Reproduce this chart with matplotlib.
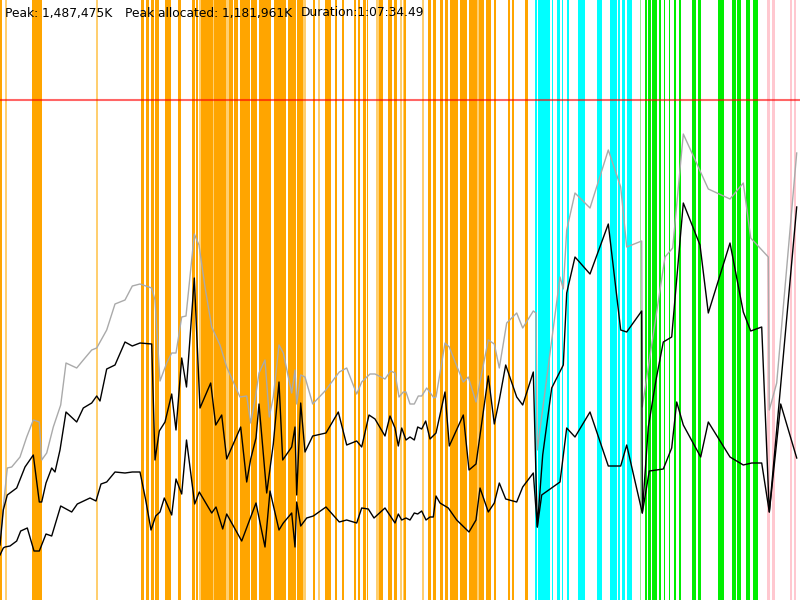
import matplotlib
matplotlib.use("Agg")
import matplotlib.pyplot as plt

# ---- data (time in px-ish units 0..800, memory in chart units 0..600) ----
gray_t = [0, 3.3, 7.3, 11.7, 20, 26.7, 33.3, 39.3, 41.7, 46.7, 53.3, 60.7, 66, 76.7, 83.3, 91.7, 96.7,
          106.7, 115, 125, 132.3, 140, 151.7, 155, 160, 166.7, 171.7, 176, 181.7, 186, 194.3, 199, 205,
          211.7, 220, 226.7, 240, 246.7, 250.7, 255, 259, 265, 269.3, 273.3, 279, 283.3, 291.7, 295,
          296.7, 300.7, 305, 312.7, 325, 339.3, 346.7, 356.7, 361.7, 370, 375, 385, 390.7, 395, 399,
          403.3, 406, 410, 414.3, 418.3, 421.7, 426.7, 434, 436, 445, 449.3, 456.7, 463.3, 468.3, 476,
          488.3, 494.3, 499.3, 506.7, 516.7, 522.7, 533.3, 536, 537.3, 560, 563.3, 566.7, 575, 590,
          608.3, 620.7, 626.7, 641.7, 642.3, 665, 672.7, 683.3, 708.3, 730, 743.3, 750.7, 768.3,
          769.3, 776.7, 796.7]
gray_v = [60, 93, 132, 133, 143, 163, 180, 178, 140, 147, 173, 195, 237, 232, 240, 250, 252,
          270, 296, 300, 314, 316, 312, 300, 219, 237, 247, 247, 283, 284, 366, 355, 313,
          273, 255, 233, 203, 204, 177, 200, 227, 240, 183, 203, 255, 247, 207, 230,
          196, 225, 223, 196, 209, 228, 232, 206, 218, 226, 226, 221, 229, 227, 203,
          208, 208, 196, 196, 204, 204, 212, 202, 203, 257, 253, 234, 218, 223, 198,
          260, 256, 232, 277, 287, 272, 289, 287, 150, 323, 311, 370, 407, 392,
          450, 413, 353, 359, 193, 343, 352, 466, 411, 401, 417, 362, 343,
          190, 217, 447]

alloc_t = [0, 3.3, 7.3, 16.7, 25, 33.3, 39.3, 41.7, 46, 51.7, 55, 60, 66, 76.7, 83.3, 91.7, 96.7, 100,
           106.7, 115, 125, 132.3, 140, 151.7, 155, 159.3, 165, 171.7, 176, 181.7, 186.5, 194.3, 200,
           210.7, 215.7, 221.7, 226.7, 240.7, 246.7, 250.7, 256, 259, 266.7, 273.3, 279, 282.7, 291.7,
           295, 296.7, 300.7, 305, 312.7, 326, 338.3, 346.7, 356.7, 361.7, 369, 375, 385, 390, 395,
           398.3, 401.7, 406, 410, 414.3, 417.7, 421.7, 425.7, 430, 436, 445, 449.3, 463.3, 469, 476,
           488.3, 494.3, 499.3, 505.7, 516.7, 522.7, 533.3, 537.3, 542.7, 551.7, 563.3, 566.7, 575,
           590, 608.3, 620.7, 626.7, 641.7, 642.3, 648.3, 656, 663.3, 671.7, 683.3, 700, 708.3, 730,
           743.3, 750.7, 761.7, 769.3, 796.7]
alloc_v = [55, 90, 105, 112, 133, 145, 98, 98, 117, 132, 128, 150, 188, 178, 192, 197, 204, 199,
           231, 235, 258, 254, 257, 256, 140, 169, 178, 206, 170, 242, 213, 322, 192,
           217, 175, 185, 141, 173, 118, 141, 162, 196, 107, 156, 218, 140, 153,
           173, 105, 197, 148, 164, 167, 188, 155, 159, 153, 185, 181, 164, 184, 172,
           154, 172, 160, 163, 160, 173, 171, 179, 161, 167, 208, 154, 185, 130, 136,
           224, 176, 200, 235, 203, 195, 228, 73, 145, 212, 235, 307, 343,
           326, 376, 270, 268, 289, 87, 173, 220, 258, 263, 397, 355, 287, 357,
           288, 269, 273, 88, 393]

live_t = [0, 3.3, 5, 10, 16.7, 20.7, 27.3, 34, 39.3, 46, 51.7, 60.7, 71.7, 77.3, 90, 96, 101, 106.7,
          115, 125, 132.3, 140, 145.7, 151, 155.7, 160, 164.3, 171.7, 176, 181.7, 186.5, 194.7, 199.3,
          211.7, 216, 222.7, 226.7, 241.7, 256, 265, 270, 279, 283.3, 291.7, 295, 296.7, 300.7, 306.7,
          313.3, 326, 339.3, 346.7, 356.7, 361.7, 368.3, 374, 385, 395, 398.3, 401.7, 406, 410, 414.3,
          417.7, 421.7, 426, 430, 433.3, 436, 440, 448.3, 456.7, 469, 476, 480, 488.3, 494.3, 499.3,
          505.7, 516.7, 522.7, 533.3, 537.3, 541.7, 560, 566.7, 575, 590, 608.3, 620.7, 626.7, 642.3,
          649.3, 663.3, 671.7, 676.7, 683.3, 700.7, 708.3, 730, 743.3, 751.7, 761.7, 769.3, 780.7, 796.7]
live_v = [45, 52, 53, 54, 59, 69, 72, 49, 49, 66, 64, 94, 88, 96, 102, 99, 116, 118,
          128, 127, 128, 128, 100, 70, 84, 88, 102, 85, 121, 106, 160, 96, 108,
          87, 93, 71, 86, 59, 97, 53, 109, 70, 77, 87, 53, 98, 74, 82,
          84, 93, 78, 80, 77, 92, 91, 82, 92, 77, 86, 80, 82, 80, 87,
          86, 89, 80, 83, 83, 104, 97, 92, 80, 68, 80, 112, 88, 97, 117,
          101, 98, 113, 127, 73, 105, 118, 172, 163, 188, 134, 134, 155, 87,
          129, 131, 152, 198, 175, 143, 178, 143, 135, 137, 137, 88, 196, 142]

limit_value = 500

# event intervals (start, end) on the time axis
orange_events = [(0, 2), (31.7, 42), (141, 144), (146, 149), (151, 154), (155, 159), (165, 171),
                 (178, 181), (192, 194.5), (195.5, 197.5),
                 (201, 212.5), (214, 226), (229, 232.5), (234, 238), (239.5, 249.5), (251, 257),
                 (259, 271), (274, 285.5), (288, 296), (297, 303),
                 (312.7, 315), (325, 331), (335, 337), (342, 344), (354, 356), (357.5, 360),
                 (363, 365.5), (366.5, 368), (379, 383), (388, 392), (393.5, 397), (404, 406),
                 (428, 431), (432.5, 436), (440, 443), (444.5, 448), (450, 458), (460, 467),
                 (469, 477), (478.5, 484), (485.5, 491), (494, 496), (508, 510), (511.5, 514),
                 (525, 528)]
light_orange_events = [(5, 7), (96, 98), (199, 201), (212.5, 214), (226, 229), (303, 306),
                       (318, 320), (376, 379), (400, 402), (402.8, 403.8), (422, 424),
                       (477, 478.5)]
cyan_events = [(535, 536.5), (538, 550), (551.5, 552.5), (557, 559.5), (562, 563), (566.5, 568.5),
               (578, 584.5), (596.5, 602), (610, 616.5), (618, 620), (621.5, 625), (627, 632)]
green_events = [(645, 647), (648, 651), (652, 657), (658.5, 661), (663.5, 665), (668.5, 670),
                (673.5, 675.5), (678.5, 681), (692, 696), (697.5, 700.5), (718, 723.5),
                (731.5, 736), (737, 741), (746, 750), (752.5, 757.5)]
light_green_events = [(640, 641)]
pink_events = [(767, 769.5), (771.5, 774.5), (790, 792), (793.5, 796)]

header = ["Peak: 1,487,475K", "Peak allocated: 1,181,961K", "Duration:1:07:34.49"]
header_x = [5, 125, 301]

# ---- drawing ----
fig = plt.figure(figsize=(8, 6), dpi=100)
ax = fig.add_axes([0, 0, 1, 1])
ax.set_xlim(0, 800)
ax.set_ylim(0, 600)
ax.axis("off")

for events, col in [(orange_events, "#FFA500"), (light_orange_events, "#FFCF70"),
                    (cyan_events, "#00FFFF"), (green_events, "#00EE00"),
                    (light_green_events, "#90F090"), (pink_events, "#FFC8D0")]:
    for s, e in events:
        ax.axvspan(s, e, color=col, lw=0, zorder=1)

ax.axhline(limit_value, color="red", alpha=0.6, lw=1.5, zorder=2)

ax.plot(gray_t, gray_v, color="#AAAAAA", lw=1.0, zorder=3)
ax.plot(alloc_t, alloc_v, color="black", lw=1.0, zorder=4)
ax.plot(live_t, live_v, color="black", lw=1.0, zorder=4)

for txt, x in zip(header, header_x):
    fig.text(x / 800, 1 - 13 / 600, txt, fontsize=8.8, family="DejaVu Sans",
             va="center", ha="left", color="black", zorder=5)

fig.savefig("out.png", dpi=100)
